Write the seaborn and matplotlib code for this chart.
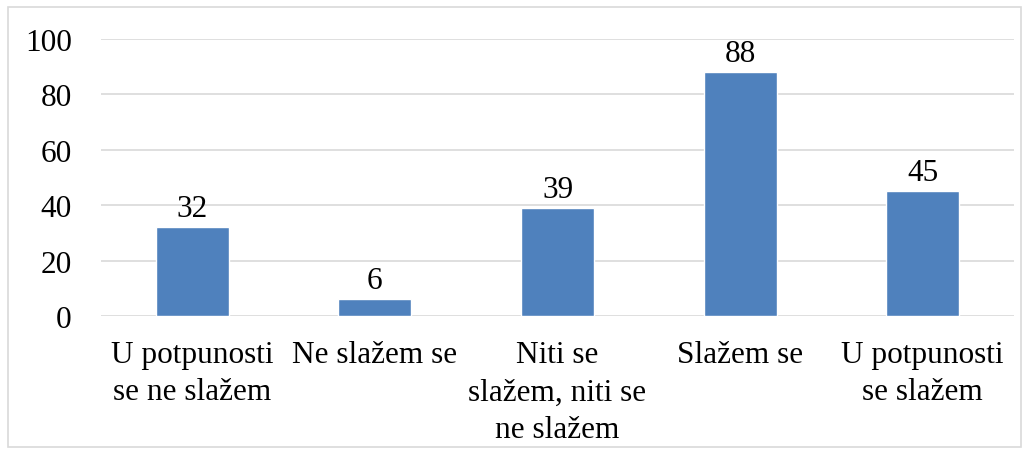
import matplotlib
matplotlib.use("Agg")
import matplotlib.pyplot as plt
import seaborn as sns
import pandas as pd
from matplotlib.patches import Rectangle

categories = ["U potpunosti\nse ne slažem", "Ne slažem se",
              "Niti se\nslažem, niti se\nne slažem", "Slažem se",
              "U potpunosti\nse slažem"]
values = [32, 6, 39, 88, 45]
yticks = [0, 20, 40, 60, 80, 100]

sns.set_theme(style="white")
plt.rcParams['font.family'] = ['Liberation Serif', 'DejaVu Serif']
plt.rcParams['text.color'] = 'black'

df = pd.DataFrame({"cat": categories, "val": values})

fig = plt.figure(figsize=(10.29, 4.56), dpi=100)
ax = fig.add_axes([101/1029, 1-317/456, (1014-101)/1029, (317-40)/456])

sns.barplot(data=df, x="cat", y="val", color="#4F81BD", width=0.4,
            saturation=1, ax=ax, zorder=3)

FS = 22.5
ax.set_ylim(0, 100)
ax.set_yticks(yticks)
ax.set_xlim(-0.5, len(categories)-0.5)
ax.grid(axis="y", color="#D9D9D9", linewidth=1.2, zorder=0)
ax.set_axisbelow(True)
for s in ["top", "right", "left", "bottom"]:
    ax.spines[s].set_visible(False)
ax.set_xlabel("")
ax.set_ylabel("")
ax.tick_params(axis="y", labelsize=FS, pad=21, length=0, colors="black")
ax.tick_params(axis="x", labelsize=FS, pad=17, length=0, colors="black")
for lab in ax.get_xticklabels():
    lab.set_linespacing(1.4)
    lab.set_multialignment("center")

for c in ax.containers:
    ax.bar_label(c, labels=[str(v) for v in values], fontsize=FS, padding=3,
                 color="black")

fig.patches.append(Rectangle((8/1029, 8/456), (1021-8)/1029, (448-8)/456,
                             transform=fig.transFigure, fill=False,
                             edgecolor="#D9D9D9", linewidth=1.2))

fig.savefig("out.png", dpi=100, facecolor="white")
